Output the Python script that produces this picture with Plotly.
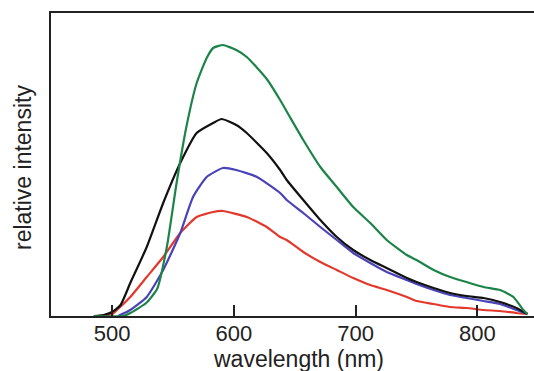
import plotly.graph_objects as go

# wavelength (nm) and relative intensity (a.u.)
green_wl = [485, 509, 515, 528, 537, 545, 553, 561, 569.5, 577.7, 583, 591, 602, 610.6, 627, 638, 646, 657, 671, 684.5, 698, 712, 725.5, 742, 750, 764, 777.5, 791, 805, 818.6, 829.5, 837.7, 841]
green_int = [0, 0, 3, 13, 27, 69, 133, 189, 233, 258, 268, 271, 266, 259, 237, 216, 199, 176, 149, 129, 109, 93, 76, 61, 56, 46, 39, 34, 29, 26, 19, 6, 2]

black_wl = [485, 493, 500, 507, 515, 528.5, 542, 556, 569.5, 583, 590, 602, 610.6, 627, 638, 643.4, 657, 671, 684.5, 698, 712, 725.5, 742, 750, 764, 777.5, 791, 805, 818.6, 832, 841]
black_int = [0, 1, 4, 11, 33, 69, 113, 153, 183, 193, 197, 191, 183, 163, 146, 136, 116, 96, 79, 66, 56, 48, 38, 34, 28, 23, 20, 18, 14, 8, 2]

blue_wl = [505, 515, 528.5, 542, 556, 566.5, 577.7, 591, 602, 619, 638, 643.4, 657, 671, 684.5, 698, 712, 725.5, 742, 750, 764, 777.5, 791, 805, 818.6, 832, 841]
blue_int = [0, 6, 19, 46, 83, 119, 139, 148, 146, 139, 123, 116, 103, 89, 76, 63, 53, 44, 36, 32, 26, 21, 18, 15, 12, 6, 2]

red_wl = [488, 500, 504, 515, 528.5, 542, 556, 569.5, 583, 591, 610.6, 627, 638, 643.4, 657, 671, 684.5, 698, 712, 725.5, 742, 750, 764, 777.5, 791, 805, 818.6, 832, 841]
red_int = [0, 2, 6, 19, 39, 59, 83, 99, 104, 105, 99, 89, 79, 76, 64, 54, 46, 38, 31, 26, 19, 15, 12, 9, 8, 6, 5, 3, 2]

x_ticks = [500, 600, 700, 800]

FONT = "Liberation Sans, Arial, sans-serif"
TXT = "#222222"

fig = go.Figure()
series = [
    (red_wl, red_int, "#e2392c"),
    (blue_wl, blue_int, "#4a42b8"),
    (black_wl, black_int, "#111111"),
    (green_wl, green_int, "#1c8448"),
]
for wl, vals, col in series:
    fig.add_trace(go.Scatter(
        x=wl, y=vals, mode="lines",
        line=dict(color=col, width=2.2, shape="spline", smoothing=0.5),
        showlegend=False, hoverinfo="skip",
    ))

fig.update_layout(
    width=534, height=371,
    margin=dict(l=51, r=0, t=13, b=55),
    paper_bgcolor="white", plot_bgcolor="white",
    font=dict(family=FONT, color=TXT),
    xaxis=dict(
        range=[449.9, 846.4], automargin=False,
        tickvals=x_ticks, ticktext=[str(t) for t in x_ticks],
        ticks="inside", ticklen=11, tickwidth=1.5, tickcolor=TXT,
        ticklabelstandoff=-3,
        tickfont=dict(size=22, family=FONT, color=TXT),
        showline=True, linecolor=TXT, linewidth=2, mirror=True,
        showgrid=False, zeroline=False,
    ),
    yaxis=dict(
        range=[0, 303], automargin=False,
        showticklabels=False, ticks="",
        showline=True, linecolor=TXT, linewidth=2,
        showgrid=False, zeroline=False,
    ),
    annotations=[
        dict(text="wavelength (nm)", xref="paper", yref="paper",
             x=(298 - 51) / 483, y=(316 - 344) / 303, xanchor="center", yanchor="top",
             showarrow=False, font=dict(size=23, family=FONT, color=TXT)),
        dict(text="relative intensity", xref="paper", yref="paper", textangle=-90,
             x=(23 - 51) / 483, y=(316 - 168) / 303, xanchor="center", yanchor="middle",
             showarrow=False, font=dict(size=23, family=FONT, color=TXT)),
    ],
)

fig.write_html(
    "out.html",
    config={"displayModeBar": False},
    post_script="document.body.style.margin='0';document.body.style.overflow='hidden';",
)
